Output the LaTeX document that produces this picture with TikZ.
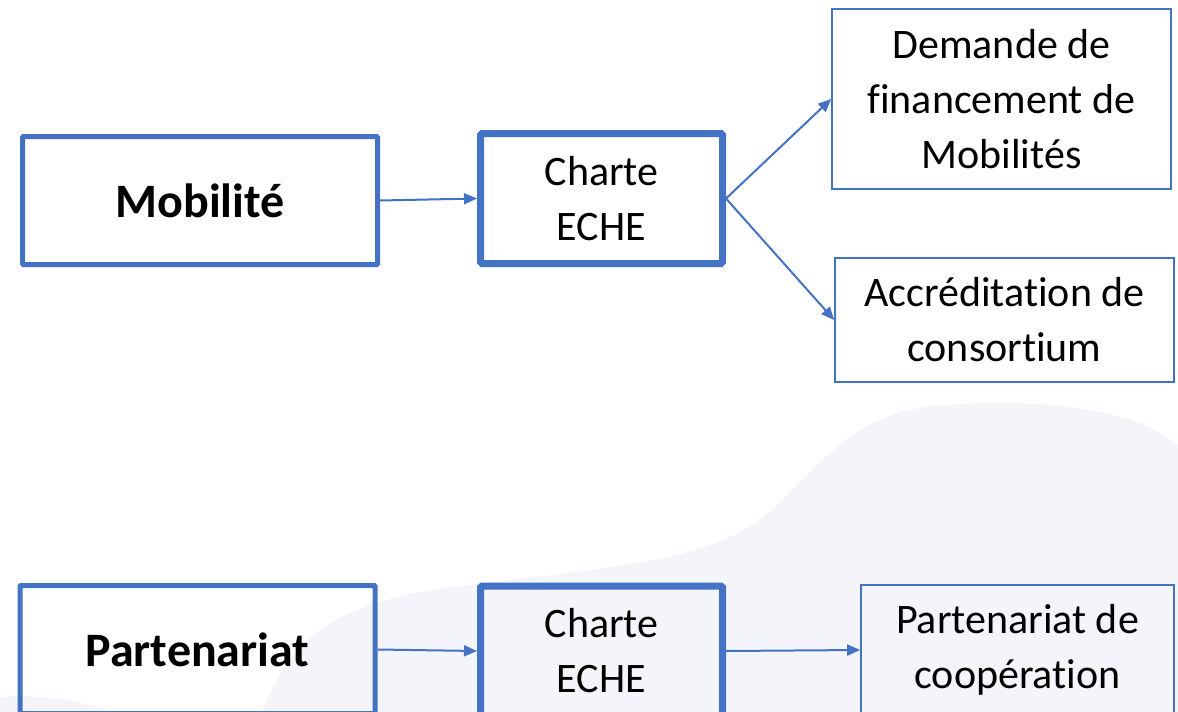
\documentclass[tikz,border=0pt]{standalone}
\usepackage{fontspec}
\setmainfont{Carlito}[Ligatures=NoCommon]
\usetikzlibrary{arrows.meta}
\definecolor{officeblue}{HTML}{4472C4}
\definecolor{blobfill}{HTML}{F3F5FA}
\begin{document}
\begin{tikzpicture}[x=1pt,y=-1pt,
  box/.style={draw=officeblue,rectangle,inner sep=0pt,align=center,
    font=\fontsize{42}{55}\selectfont},
  thickbox/.style={box,line width=5pt,rounded corners=1pt},
  heavybox/.style={box,line width=7pt,rounded corners=1.5pt},
  thinbox/.style={box,line width=1.6pt},
  conn/.style={draw=officeblue,line width=2pt,-{Triangle[length=13pt,width=11pt]}},
  bold/.style={font=\fontsize{48}{55}\selectfont\bfseries}]
\useasboundingbox (0,0) rectangle (1178,712);
\clip (0,0) rectangle (1178,712);
% background blob
\fill[blobfill] (262,712) .. controls (290,640) and (330,610) .. (420,592)
  .. controls (560,570) and (690,570) .. (760,520)
  .. controls (820,470) and (840,420) .. (930,406)
  .. controls (1030,398) and (1130,405) .. (1178,445)
  -- (1178,712) -- cycle;
\fill[blobfill] (0,697) .. controls (40,694) and (80,700) .. (110,712) -- (0,712) -- cycle;
% nodes
\node[thickbox,bold,minimum width=355pt,minimum height=128pt] (mob) at (200,200.5) {Mobilité};
\node[heavybox,minimum width=242pt,minimum height=130pt] (ch1) at (601.5,198.5) {Charte\\ECHE};
\node[thinbox,minimum width=339pt,minimum height=180pt] (dem) at (1001.5,99) {Demande de\\financement de\\Mobilités};
\node[thinbox,minimum width=339pt,minimum height=124pt] (acc) at (1004.5,320) {Accréditation de\\consortium};
\node[thickbox,bold,minimum width=355pt,minimum height=128pt] (par) at (197.5,649.5) {Partenariat};
\node[heavybox,minimum width=242pt,minimum height=130pt] (ch2) at (601.5,651) {Charte\\ECHE};
\node[thinbox,minimum width=313pt,minimum height=130pt] (coop) at (1017.5,650) {Partenariat de\\coopération};
% connectors
\draw[conn] (mob.east) -- (ch1.west);
\draw[conn] (ch1.east) -- (dem.west);
\draw[conn] (ch1.east) -- (acc.west);
\draw[conn] (par.east) -- (ch2.west);
\draw[conn] (ch2.east) -- (coop.west);
\end{tikzpicture}
\end{document}
